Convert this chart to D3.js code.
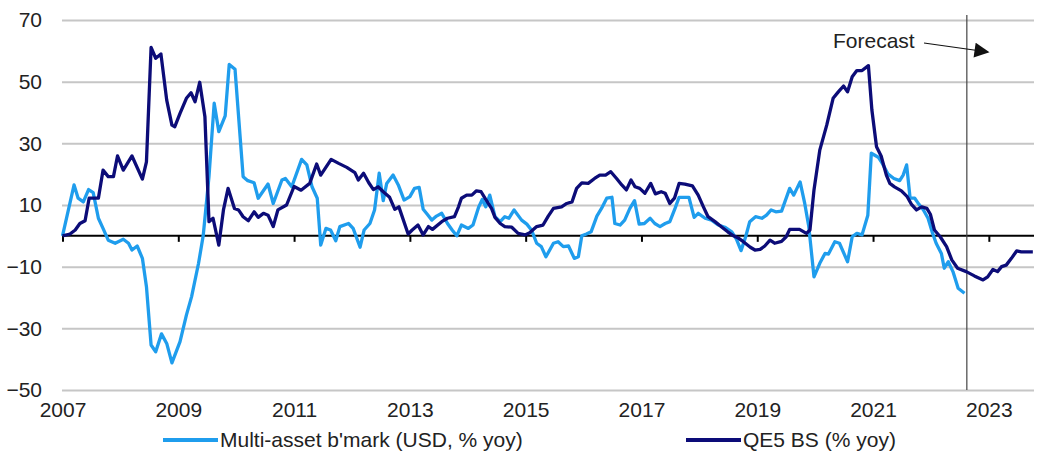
<!DOCTYPE html>
<html lang="en">
<head>
<meta charset="UTF-8">
<title>Multi-asset benchmark vs QE5 balance sheet</title>
<script src="https://d3js.org/d3.v7.min.js"></script>
<style>
  body { margin: 0; background: #fff; }
  svg text { font-family: Arial, "Liberation Sans", sans-serif; fill: #222; }
</style>
</head>
<body>
<div id="chart"></div>
<script>
// series 1: multi-asset benchmark (USD, % yoy)
let mbDates = [2007.0, 2007.2, 2007.27, 2007.36, 2007.45, 2007.53, 2007.62, 2007.7, 2007.79, 2007.91,
  2008.05, 2008.14, 2008.2, 2008.29, 2008.38, 2008.45, 2008.53, 2008.61, 2008.71, 2008.8, 2008.89,
  2009.03, 2009.14, 2009.23, 2009.35, 2009.43, 2009.53, 2009.62, 2009.7, 2009.81, 2009.88, 2009.98,
  2010.12, 2010.2, 2010.31, 2010.38, 2010.55, 2010.64, 2010.79, 2010.85, 2010.96,
  2011.13, 2011.22, 2011.31, 2011.4, 2011.46, 2011.55, 2011.63, 2011.72, 2011.79, 2011.94,
  2012.02, 2012.14, 2012.21, 2012.31, 2012.39, 2012.47, 2012.54, 2012.6, 2012.71, 2012.8, 2012.9,
  2013.0, 2013.08, 2013.16, 2013.23, 2013.3, 2013.38, 2013.46, 2013.55, 2013.65, 2013.73, 2013.81, 2013.89,
  2014.01, 2014.09, 2014.19, 2014.25, 2014.31, 2014.38, 2014.47, 2014.56, 2014.64, 2014.71, 2014.8, 2014.93,
  2015.02, 2015.1, 2015.19, 2015.27, 2015.35, 2015.48, 2015.56, 2015.65, 2015.74, 2015.84, 2015.91, 2015.97,
  2016.05, 2016.13, 2016.23, 2016.31, 2016.4, 2016.49, 2016.54, 2016.63, 2016.71, 2016.8, 2016.88, 2016.96,
  2017.05, 2017.15, 2017.23, 2017.32, 2017.41, 2017.49, 2017.58, 2017.65, 2017.82, 2017.91, 2017.98,
  2018.1, 2018.21, 2018.33, 2018.44, 2018.56, 2018.64, 2018.72, 2018.8, 2018.87, 2018.97,
  2019.08, 2019.16, 2019.24, 2019.32, 2019.42, 2019.56, 2019.63, 2019.74, 2019.82, 2019.89, 2019.98,
  2020.08, 2020.17, 2020.23, 2020.34, 2020.42, 2020.56, 2020.64, 2020.72, 2020.81, 2020.91, 2020.97,
  2021.09, 2021.16, 2021.26, 2021.36, 2021.46, 2021.52, 2021.58, 2021.64, 2021.72, 2021.79, 2021.87, 2021.95,
  2022.02, 2022.09, 2022.18, 2022.23, 2022.3, 2022.38, 2022.47, 2022.58]
let mbValues = [0, 16.5, 12.2, 11, 15, 14, 5.7, 2.4, -1.4, -2.4,
  -1.1, -2.4, -4.6, -3.3, -7.3, -16.5, -35.4, -37.6, -31.8, -34.9, -41.2,
  -34.3, -25.7, -19.7, -8.9, 0, 19.2, 43, 33.8, 38.9, 55.6, 54,
  19.2, 17.9, 17.2, 12.2, 16.8, 10.5, 18.1, 18.6, 15.9,
  24.8, 23, 15.9, 12.2, -3, 2.4, 1.9, -1.6, 3, 4,
  2.4, -3.7, 1.9, 4, 8.4, 20.3, 11.4, 17, 19.7, 16.5, 11.6,
  12.7, 15.4, 15.7, 8.6, 7, 5.1, 6.4, 7.3, 4, 1.9, 0, 3.5,
  2.4, 3.5, 9.4, 11.8, 9.4, 13.2, 6.2, 4.6, 6.2, 5.7, 8.4, 5.1,
  3.8, 1.9, -2.4, -3.5, -6.8, -2.4, -1.9, -3.5, -3.3, -7.3, -6.8, 0,
  0.6, 1.3, 6.4, 8.9, 12.2, 12.5, 4, 3.5, 5.1, 8.9, 11.4, 3.8,
  4, 5.7, 4, 3, 4, 4.6, 8.9, 12.5, 12.5, 6, 7.3,
  5.7, 5.1, 3.5, 2.8, 1.3, -1.1, -4.8, -0.3, 4.6, 6.2,
  5.7, 6.7, 8.4, 7.8, 8, 15.4, 13.2, 17.5, 10.5, 3, -13.3,
  -8.9, -5.7, -5.9, -1.9, -2.4, -8.4, -0.3, 0.8, 0.3, 6.7, 26.8,
  25.5, 23.5, 20, 18.6, 17.9, 19.7, 23, 12.2, 12.2, 10.3, 8.4, 5.7,
  1.3, -2.4, -5.7, -10.5, -8.4, -11.6, -17, -18.6]

// series 2: QE5 balance sheet (% yoy), includes forecast part
let qeDates = [2007.0, 2007.13, 2007.22, 2007.3, 2007.39, 2007.46, 2007.62, 2007.7, 2007.79, 2007.88, 2007.95,
  2008.05, 2008.2, 2008.38, 2008.45, 2008.53, 2008.61, 2008.7, 2008.8, 2008.89, 2008.94,
  2009.03, 2009.14, 2009.22, 2009.29, 2009.37, 2009.46, 2009.53, 2009.6, 2009.7, 2009.78, 2009.86, 2009.97,
  2010.04, 2010.12, 2010.21, 2010.31, 2010.38, 2010.47, 2010.55, 2010.64, 2010.72, 2010.87,
  2011.0, 2011.12, 2011.27, 2011.39, 2011.46, 2011.64, 2011.77, 2011.91,
  2012.05, 2012.11, 2012.2, 2012.29, 2012.37, 2012.45, 2012.54, 2012.65, 2012.74, 2012.81, 2012.97,
  2013.04, 2013.14, 2013.23, 2013.32, 2013.39, 2013.55, 2013.65, 2013.77, 2013.84, 2013.89, 2013.98,
  2014.07, 2014.15, 2014.23, 2014.31, 2014.41, 2014.47, 2014.56, 2014.64, 2014.76, 2014.87, 2014.99,
  2015.07, 2015.19, 2015.3, 2015.39, 2015.48, 2015.62, 2015.71, 2015.8, 2015.88, 2015.97,
  2016.08, 2016.19, 2016.28, 2016.38, 2016.47, 2016.57, 2016.66, 2016.74, 2016.82, 2016.89, 2016.97,
  2017.06, 2017.16, 2017.24, 2017.34, 2017.41, 2017.49, 2017.57, 2017.65, 2017.75, 2017.88, 2017.98,
  2018.07, 2018.15, 2018.27, 2018.39, 2018.49, 2018.59, 2018.68, 2018.76, 2018.88, 2018.96,
  2019.05, 2019.13, 2019.22, 2019.3, 2019.42, 2019.5, 2019.56, 2019.73, 2019.85, 2019.91, 2019.98,
  2020.08, 2020.2, 2020.31, 2020.4, 2020.49, 2020.56, 2020.64, 2020.72, 2020.81, 2020.92, 2020.98,
  2021.06, 2021.14, 2021.23, 2021.29, 2021.37, 2021.49, 2021.59, 2021.66, 2021.75, 2021.84, 2021.93, 2021.99,
  2022.06, 2022.16, 2022.27, 2022.36, 2022.46, 2022.61, 2022.75, 2022.9, 2022.98,
  2023.07, 2023.15, 2023.22, 2023.3, 2023.39, 2023.48, 2023.56, 2023.76]
let qeValues = [0, 0.6, 1.9, 4, 4.9, 12.2, 12.2, 21.3, 19.2, 19.2, 25.9,
  21.3, 25.9, 18.4, 24, 61.1, 57.6, 59, 44, 35.9, 35.4,
  39.7, 44.6, 46.4, 43.5, 49.8, 38.6, 4.6, 5.7, -3, 8.4, 15.4, 8.9,
  8.4, 6.2, 4.9, 7.8, 6, 7.3, 6.7, 3, 8.4, 10,
  16, 14.8, 17, 23.3, 19.7, 24.8, 23.5, 22.2,
  20.5, 18.1, 20.3, 17.2, 15, 15.9, 14.3, 12.5, 8.6, 9.4, 0.6,
  1.9, 3.5, 0.3, 3, 2.1, 4.6, 5.7, 6.2, 9.4, 12.2, 13.2,
  13.2, 14.6, 14.3, 11.8, 8.9, 6, 4, 3, 2.8, 0.8, 0.3,
  1, 3, 3.5, 6.4, 8.9, 9.4, 10.5, 11, 15.4, 17.2,
  17, 18.6, 19.7, 19.7, 20.8, 18.6, 16.5, 14.9, 18.1, 15.9, 15.4,
  13.8, 17, 13.6, 14.3, 13.8, 10.5, 12.2, 17, 16.8, 16.2, 13.2,
  9.4, 6.2, 4.6, 2.8, 1.3, 0, -0.8, -1.9, -3.7, -4.6,
  -4.4, -3.3, -1.4, -2.4, -1.8, -0.3, 2.1, 2.1, 0.8, 1.9, 14.9,
  27.8, 35.9, 44.6, 46.7, 48.6, 46.7, 51.6, 53.6, 53.6, 55.2, 40.8,
  28.9, 25.9, 19.7, 17, 15.9, 14.6, 12.7, 10.3, 8.4, 9.4, 8.9, 7,
  1.9, -0.3, -3.5, -7.8, -10.5, -11.6, -13, -14.3, -13.3,
  -10.9, -11.6, -10, -9.5, -7.3, -4.9, -5.2, -5.2]

let seriesNames = ["Multi-asset b'mark (USD, % yoy)", "QE5 BS (% yoy)"]
let seriesColors = ["#1f9ded", "#0c0c78"]
let yTicks = [70, 50, 30, 10, -10, -30, -50]
let xTicks = [2007, 2009, 2011, 2013, 2015, 2017, 2019, 2021, 2023]
let forecastStart = 2022.62

let width = 1040, height = 453

let svg = d3.select("#chart").append("svg")
    .attr("width", width)
    .attr("height", height)

let x = d3.scaleLinear().domain([2007, 2023.78]).range([62.5, 1034])
let y = d3.scaleLinear().domain([-50, 70]).range([390, 20])

// gridlines + y labels
let yAxis = svg.append("g")
    .attr("transform", "translate(62,0)")
    .call(d3.axisLeft(y).tickValues(yTicks).tickSize(-(1034 - 62)).tickPadding(20).tickFormat(d3.format("d")))
yAxis.select(".domain").remove()
yAxis.selectAll(".tick line").attr("stroke", "#c6c6c6").attr("stroke-width", 2)
yAxis.selectAll(".tick text").style("font-size", "21px").attr("fill", "#222")

// x labels along the bottom
let xLabels = svg.append("g")
    .attr("transform", "translate(0,400)")
    .call(d3.axisBottom(x).tickValues(xTicks).tickSize(0).tickPadding(2).tickFormat(d3.format("d")))
xLabels.select(".domain").remove()
xLabels.selectAll(".tick text").style("font-size", "21px").attr("fill", "#222")

// zero line with small ticks
let zeroAxis = svg.append("g")
    .attr("transform", "translate(0," + y(0) + ")")
    .call(d3.axisBottom(x).tickValues(xTicks).tickSize(6).tickFormat(""))
zeroAxis.select(".domain").attr("d", "M62,0H1034").attr("stroke", "#000").attr("stroke-width", 2)
zeroAxis.selectAll(".tick line").attr("stroke", "#000").attr("stroke-width", 2)

// forecast divider
svg.append("line")
    .attr("x1", x(forecastStart)).attr("x2", x(forecastStart))
    .attr("y1", y(70) - 5).attr("y2", y(-50))
    .attr("stroke", "#444").attr("stroke-width", 1.2)

let line = d3.line()
    .x(d => x(d[0]))
    .y(d => y(d[1]))

let mbData = d3.zip(mbDates, mbValues)
let qeData = d3.zip(qeDates, qeValues)

svg.append("path")
    .datum(mbData)
    .attr("d", line)
    .attr("fill", "none")
    .attr("stroke", seriesColors[0])
    .attr("stroke-width", 3.3)
    .attr("stroke-linejoin", "round")

svg.append("path")
    .datum(qeData)
    .attr("d", line)
    .attr("fill", "none")
    .attr("stroke", seriesColors[1])
    .attr("stroke-width", 3.3)
    .attr("stroke-linejoin", "round")

// forecast annotation
svg.append("defs").append("marker")
    .attr("id", "arrow")
    .attr("viewBox", "0 0 10 10")
    .attr("refX", 9).attr("refY", 5)
    .attr("markerWidth", 17).attr("markerHeight", 15)
    .attr("markerUnits", "userSpaceOnUse")
    .attr("orient", "auto")
  .append("path")
    .attr("d", "M0,0L10,5L0,10Z")
    .attr("fill", "#111")

svg.append("text")
    .attr("x", 833).attr("y", 48)
    .style("font-size", "21px")
    .text("Forecast")

svg.append("line")
    .attr("x1", 924).attr("y1", 43)
    .attr("x2", 988).attr("y2", 52)
    .attr("stroke", "#111").attr("stroke-width", 1.2)
    .attr("marker-end", "url(#arrow)")

// legend
let legendX = [163, 686]
let legend = svg.selectAll(".legend")
    .data(seriesNames)
    .enter().append("g")
    .attr("transform", (d, i) => "translate(" + legendX[i] + ",440)")

legend.append("line")
    .attr("x1", 0).attr("x2", 55)
    .attr("stroke", (d, i) => seriesColors[i])
    .attr("stroke-width", 4)

legend.append("text")
    .attr("x", 57).attr("dy", "0.35em")
    .style("font-size", "21px")
    .text(d => d)
</script>
</body>
</html>
